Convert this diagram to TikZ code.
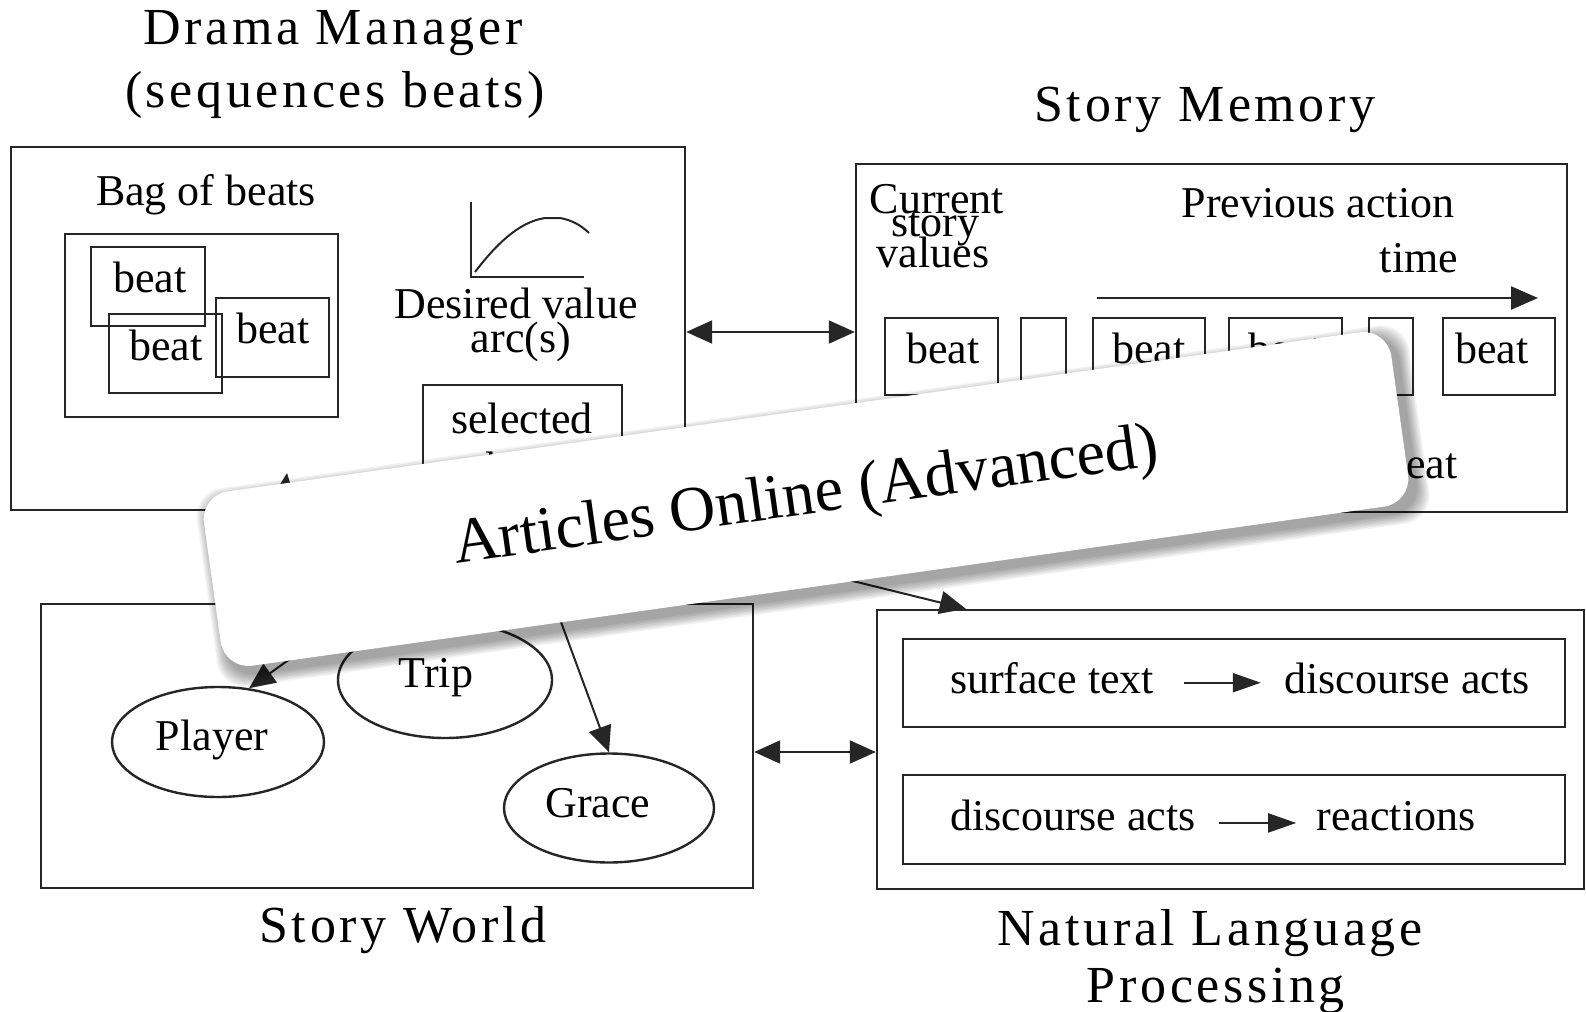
\documentclass[tikz,border=0pt]{standalone}
\usepackage{fontspec}
\setmainfont{Liberation Serif}
\newfontfamily\ttlfont[LetterSpace=7]{Liberation Serif}
\usetikzlibrary{arrows.meta,fit,shapes.geometric}
\begin{document}
\begin{tikzpicture}[x=0.5pt,y=-0.5pt,
  ln/.style={draw=black!85, line width=1.2pt},
  bx/.style={ln, inner sep=0pt},
  tx/.style={font=\fontsize{22}{24}\selectfont, inner sep=0pt, anchor=base},
  tt/.style={font=\ttlfont\fontsize{26}{28}\selectfont, inner sep=0pt, anchor=base},
  el/.style={ln, ellipse, inner sep=0pt},
  ar/.style={line width=1pt, draw=black!85, -{Triangle[length=13pt,width=11.5pt]}},
  dar/.style={line width=1pt, draw=black!85, {Triangle[length=13pt,width=11.5pt]}-{Triangle[length=13pt,width=11.5pt]}},
  sar/.style={line width=1pt, draw=black!85, -{Triangle[length=14pt,width=9.5pt]}},
  tar/.style={line width=1.2pt, draw=black!85, -{Triangle[length=13.5pt,width=11.5pt]}}
]
\useasboundingbox (0,0) rectangle (1586,1012);
\fill[white] (0,0) rectangle (1586,1012);

% titles
\node[tt] (dmt1) at (333,45) {Drama Manager};
\node[tt] (dmt2) at (335,107) {(sequences beats)};
\node[tt] (smt) at (1205,121) {Story Memory};
\node[tt] (swt) at (403,942) {Story World};
\node[tt] (nlt1) at (1210,945) {Natural Language};
\node[tt] (nlt2) at (1216,1002) {Processing};

% Drama manager
\node[bx, fit={(11,147) (685,510)}] (dm) {};
\node[tx] (bagt) at (206,205) {Bag of beats};
\node[bx, fit={(65,234) (338,417)}] (bag) {};
\node[bx, fit={(91,247) (205,326)}] (db1) {};
\node[bx, fit={(109,314) (222,393)}] (db2) {};
\node[bx, fit={(216,298) (329,377)}] (db3) {};
\node[tx] (db1t) at (150,292) {beat};
\node[tx] (db2t) at (166,360) {beat};
\node[tx] (db3t) at (273,343) {beat};
\draw[ln] (471,202) -- (471,277) -- (584,277);
\draw[ln, line width=1pt] (475,272) .. controls (495,246) and (518,222) .. (545,218) -- (560,218) .. controls (572,220) and (582,226) .. (589,233);
\node[tx] (dvt1) at (516,318) {Desired value};
\node[tx] (dvt2) at (521,352) {arc(s)};
\node[bx, fit={(423,385) (622,500)}] (sel) {};
\node[tx] (selt1) at (522,433) {selected};
\node[tx] (selt2) at (523,482) {beat};

% Story memory
\node[bx, fit={(856,164) (1567,512)}] (sm) {};
\node[tx] (cur1) at (937,213) {Current};
\node[tx] (cur2) at (935,236) {story};
\node[tx] (cur3) at (933,267) {values};
\node[tx] (prev) at (1318,217) {Previous action};
\node[tx] (time) at (1419,272) {time};
\coordinate (t0) at (1097,298);
\coordinate (t1) at (1538,298);
\draw[tar] (t0) -- (t1);
\node[bx, fit={(885,318) (998,395)}] (sb1) {};
\node[bx, fit={(1021,318) (1066,395)}] (se1) {};
\node[bx, fit={(1093,318) (1205,395)}] (sb2) {};
\node[bx, fit={(1229,318) (1342,395)}] (sb3) {};
\node[bx, fit={(1369,318) (1413,395)}] (se2) {};
\node[bx, fit={(1443,318) (1555,395)}] (sb4) {};
\node[tx] (sb1t) at (943,363) {beat};
\node[tx] (sb2t) at (1149,363) {beat};
\node[tx] (sb3t) at (1285,363) {beat};
\node[tx] (sb4t) at (1492,363) {beat};
\node[tx, anchor=base east] (smbt) at (1458,478) {beat};

% Story world
\node[bx, fit={(41,604) (753,888)}] (sw) {};
\node[el, minimum width=106pt, minimum height=55pt] (player) at (218,742) {};
\node[el, minimum width=107pt, minimum height=58pt] (trip) at (445,680) {};
\node[el, minimum width=105pt, minimum height=54.5pt] (grace) at (609,808) {};
\node[tx] (playert) at (212,750) {Player};
\node[tx] (tript) at (436,687) {Trip};
\node[tx] (gracet) at (598,817) {Grace};

% NLP
\node[bx, fit={(877,610) (1584,889)}] (nlp) {};
\node[bx, fit={(903,639) (1565,727)}] (nr1) {};
\node[bx, fit={(903,775) (1565,864)}] (nr2) {};
\node[tx] (st) at (1052,693) {surface text};
\node[tx] (da1) at (1407,693) {discourse acts};
\node[tx] (da2) at (1073,830) {discourse acts};
\node[tx] (rea) at (1396,830) {reactions};
\draw[sar] ([xshift=15pt,yshift=-2.5pt]st.east) -- ([xshift=-11.5pt,yshift=-2.5pt]st.east -| da1.west);
\draw[sar] ([xshift=11.5pt,yshift=-4pt]da2.east) -- ([xshift=-10pt,yshift=-4pt]da2.east -| rea.west);

% connectors
\draw[dar] ([yshift=-1.75pt]dm.east) -- ([yshift=-1.75pt]dm.east -| sm.west);
\draw[dar] ([yshift=-3pt]sw.east) -- ([yshift=-3pt]sw.east -| nlp.west);
\draw[ar] ([xshift=-3pt]sel.south) -- (grace.north);
\draw[ar] ([xshift=-6pt]sel.south) -- (player.60);
\draw[ar] ([xshift=3pt]sel.south) -- ([xshift=45pt]nlp.north west);
\coordinate (dmup) at (287,473);
\draw[ar] ([xshift=115.5pt]sw.north west) -- (dmup);

% overlay banner with soft shadow
\begin{scope}[shift={(813,506)}, rotate=8]
  \foreach \k in {1,...,8}
    \fill[black, opacity=0.05, rounded corners=14pt] (-600-\k*1.5,-88-\k*1.5) rectangle (600+\k*1.5,88+\k*1.5);
\end{scope}
\node[fill=white, rounded corners=14pt, rotate=8, minimum width=599.5pt, minimum height=88pt, inner sep=0pt,
  font=\fontsize{32}{34}\selectfont] (ov) at (806,499) {Articles Online (Advanced)};
\end{tikzpicture}
\end{document}
